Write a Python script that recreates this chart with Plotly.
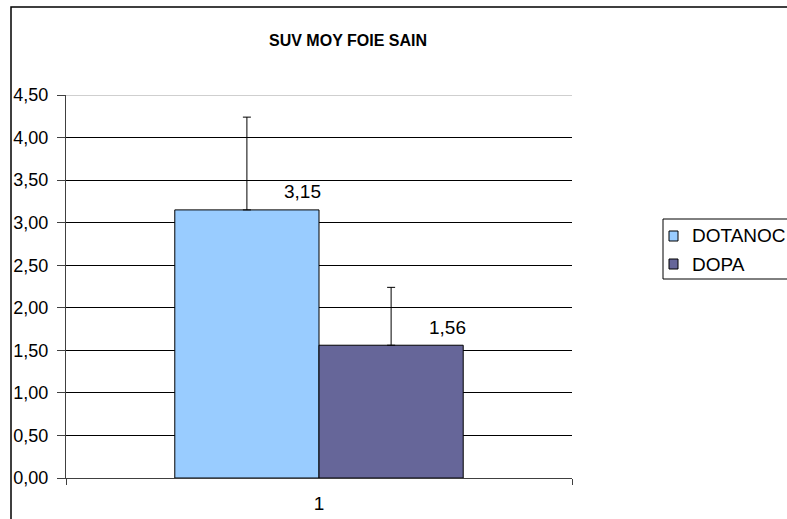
import plotly.graph_objects as go

# ---- data ----
categories = ["1"]
series_names = ["DOTANOC", "DOPA"]
means = [3.15, 1.56]
err_plus = [1.09, 0.68]
label_texts = ["3,15", "1,56"]
y_ticks = [0, 0.5, 1, 1.5, 2, 2.5, 3, 3.5, 4, 4.5]
colors = ["#99CCFF", "#666699"]

W, H = 787, 519
L, R, T, B = 66, 215, 95, 41
pw, ph = W - L - R, H - T - B

FONT = "Liberation Sans, Arial, sans-serif"
FS = 19

fig = go.Figure()
for name, m, e, c in zip(series_names, means, err_plus, colors):
    fig.add_trace(go.Bar(
        x=categories, y=[m], name=name,
        marker=dict(color=c, line=dict(color="black", width=1)),
        error_y=dict(type="data", symmetric=False, array=[e], arrayminus=[0],
                     color="black", thickness=1, width=4),
        showlegend=False, hoverinfo="skip",
    ))

# data labels (positioned at the category index, shifted beside each bar)
xshifts = [-17, 128]
cat_index = 0
for m, t, xs in zip(means, label_texts, xshifts):
    fig.add_annotation(x=cat_index, y=m, text=t, showarrow=False,
                       xref="x", yref="y", xshift=xs, yshift=18,
                       font=dict(family=FONT, size=FS, color="black"))

shapes = []
px = lambda v: (v - L) / pw
py = lambda v: (H - B - v) / ph
# outer chart border
shapes.append(dict(type="rect", xref="paper", yref="paper",
                   x0=px(11), x1=px(W + 20), y0=py(H + 20), y1=py(7),
                   line=dict(color="black", width=1.5), fillcolor="rgba(0,0,0,0)", layer="below"))
# top gridline gray
shapes.append(dict(type="line", xref="paper", yref="y", x0=0, x1=1, y0=y_ticks[-1], y1=y_ticks[-1],
                   line=dict(color="#A0A0A0", width=1)))
# manual legend box
shapes.append(dict(type="rect", xref="paper", yref="paper",
                   x0=px(663), x1=px(W + 20), y0=py(279), y1=py(219),
                   line=dict(color="black", width=1), fillcolor="white"))
leg_rows = [236, 264]
for c, yy, name in zip(colors, leg_rows, series_names):
    shapes.append(dict(type="rect", xref="paper", yref="paper",
                       x0=px(669), x1=px(678), y0=py(yy + 5), y1=py(yy - 5),
                       line=dict(color="black", width=1), fillcolor=c))
    fig.add_annotation(x=px(690), y=py(yy), xref="paper", yref="paper", text=name,
                       showarrow=False, xanchor="left", yanchor="middle",
                       font=dict(family=FONT, size=FS, color="black"))

fig.update_layout(
    template="none",
    width=W, height=H,
    margin=dict(l=L, r=R, t=T, b=B, autoexpand=False),
    paper_bgcolor="white", plot_bgcolor="white",
    separators=", ",
    barmode="group", bargap=0.43, bargroupgap=0,
    title=dict(text="<b>SUV MOY FOIE SAIN</b>", x=px(348), xanchor="center",
               y=1 - 40 / H, yanchor="middle", xref="paper",
               font=dict(family=FONT, size=16, color="black")),
    shapes=shapes,
    font=dict(family=FONT, color="black"),
    hovermode=False,
)
fig.update_yaxes(range=[0, 4.5], tickvals=y_ticks, tickformat=".2f", automargin=False,
                 showgrid=True, gridcolor="black", gridwidth=1,
                 showline=True, linecolor="#404040", linewidth=1,
                 ticks="outside", ticklen=8, tickcolor="#404040", tickwidth=1,
                 ticklabelstandoff=5,
                 tickfont=dict(family=FONT, size=18, color="black"), zeroline=False)
fig.update_xaxes(type="category", range=[-0.5, 0.5], automargin=False,
                 showline=True, linecolor="#404040", linewidth=1,
                 ticks="outside", tickson="boundaries", ticklen=6, tickcolor="#404040", tickwidth=1,
                 ticklabelstandoff=8, showgrid=False,
                 tickfont=dict(family=FONT, size=FS, color="black"))

fig.write_html("out.html", config={"displayModeBar": False},
               post_script="document.body.style.margin='0';")
